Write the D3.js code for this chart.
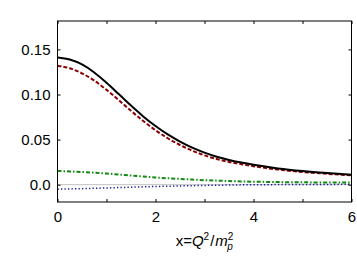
<!DOCTYPE html>
<html>
<head>
<meta charset="utf-8">
<script src="https://cdn.jsdelivr.net/npm/d3@7"></script>
<style>
    body { margin: 0; background: #ffffff; }
    svg { display: block; }
    text { font-family: "Liberation Sans", Arial, sans-serif; fill: #000; }
</style>
</head>
<body>
<div id="chart"></div>
<script>
// Values
const xs = [0, 0.25, 0.5, 0.75, 1, 1.25, 1.5, 1.75, 2, 2.25, 2.5, 2.75, 3, 3.25, 3.5, 3.75, 4, 4.5, 5, 5.5, 6];
const totalSeries = [0.1410, 0.1388, 0.1333, 0.1244, 0.1130, 0.1005, 0.0877, 0.0757, 0.0650, 0.0557, 0.0478, 0.0411, 0.0355, 0.0310, 0.0274, 0.0245, 0.0220, 0.0180, 0.0151, 0.0129, 0.0111];
const redSeries   = [0.1320, 0.1291, 0.1235, 0.1154, 0.1052, 0.0938, 0.0819, 0.0706, 0.0604, 0.0515, 0.0440, 0.0377, 0.0325, 0.0284, 0.0252, 0.0227, 0.0205, 0.0168, 0.0141, 0.0121, 0.0104];
const greenSeries = [0.0153, 0.0147, 0.0141, 0.0133, 0.0124, 0.0113, 0.0102, 0.0091, 0.0080, 0.0071, 0.0064, 0.0057, 0.0050, 0.0045, 0.0040, 0.0036, 0.0033, 0.0029, 0.0026, 0.0025, 0.0024];
const blueSeries  = [-0.0050, -0.0047, -0.0044, -0.0040, -0.0036, -0.0032, -0.0028, -0.0024, -0.0020, -0.0017, -0.0014, -0.0011, -0.0008, -0.0006, -0.0004, -0.0002, -0.0001, 0.0001, 0.0002, 0.0003, 0.0004];

const xTicks = [0, 1, 2, 3, 4, 5, 6];
const xTickLabels = ['0', '', '2', '', '4', '', '6'];
const yTicks = [0, 0.05, 0.10, 0.15];
const yTickLabels = ['0.0', '0.05', '0.10', '0.15'];

const width = 357, height = 256;
const plotLeft = 57.5, plotRight = 351.5, plotTop = 21, plotBottom = 202;

const svg = d3.select('#chart').append('svg')
    .attr('width', width)
    .attr('height', height);

const x = d3.scaleLinear().domain([0, 6]).range([plotLeft, plotRight]);
const y = d3.scaleLinear().domain([-0.0192, 0.1815]).range([plotBottom, plotTop]);

// zero line
svg.append('line')
    .attr('x1', x(0)).attr('x2', x(6))
    .attr('y1', y(0)).attr('y2', y(0))
    .attr('stroke', '#c0c0c0')
    .attr('stroke-width', 1);

const line = d3.line()
    .x((d, i) => x(xs[i]))
    .y(d => y(d))
    .curve(d3.curveMonotoneX);

const series = [
    { values: blueSeries,  color: '#1a1aa0', width: 1.5, dash: '1.3,2.2' },
    { values: greenSeries, color: '#108a10', width: 2,   dash: '4,2,1.5,2' },
    { values: redSeries,   color: '#8b0000', width: 2,   dash: '4,2' },
    { values: totalSeries, color: '#000000', width: 2,   dash: null }
];

series.forEach(s => {
    svg.append('path')
        .attr('d', line(s.values))
        .attr('fill', 'none')
        .attr('stroke', s.color)
        .attr('stroke-width', s.width)
        .attr('stroke-dasharray', s.dash);
});

// Axes with inward ticks
function styleAxis(g) {
    g.select('.domain').remove();
    g.selectAll('.tick line').attr('stroke', '#000').attr('stroke-width', 1);
    g.selectAll('.tick text').style('font-size', '15px').style('font-family', '"Liberation Sans", Arial, sans-serif');
}

svg.append('g')
    .attr('transform', `translate(0,${plotBottom})`)
    .call(d3.axisBottom(x).tickValues(xTicks).tickSize(-3).tickPadding(9)
        .tickFormat((d, i) => xTickLabels[i]))
    .call(styleAxis);

svg.append('g')
    .attr('transform', `translate(0,${plotTop})`)
    .call(d3.axisTop(x).tickValues(xTicks).tickSize(-3).tickFormat(''))
    .call(styleAxis);

svg.append('g')
    .attr('transform', `translate(${plotLeft},0)`)
    .call(d3.axisLeft(y).tickValues(yTicks).tickSize(-3).tickPadding(7)
        .tickFormat((d, i) => yTickLabels[i]))
    .call(styleAxis);

svg.append('g')
    .attr('transform', `translate(${plotRight},0)`)
    .call(d3.axisRight(y).tickValues(yTicks).tickSize(-3).tickFormat(''))
    .call(styleAxis);

// Frame
svg.append('rect')
    .attr('x', plotLeft).attr('y', plotTop)
    .attr('width', plotRight - plotLeft).attr('height', plotBottom - plotTop)
    .attr('fill', 'none')
    .attr('stroke', '#000')
    .attr('stroke-width', 1);

// x axis title: x=Q^2/m_p^2
const title = svg.append('text')
    .attr('x', (plotLeft + plotRight) / 2)
    .attr('y', 246)
    .attr('text-anchor', 'middle')
    .style('font-size', '15px');
title.append('tspan').text('x=');
title.append('tspan').style('font-style', 'italic').text('Q');
title.append('tspan').attr('dy', -6).style('font-size', '10px').text('2');
title.append('tspan').attr('dx', 1).attr('dy', 6).text('/');
title.append('tspan').attr('dx', 1).style('font-style', 'italic').text('m');
title.append('tspan').attr('dy', -6).style('font-size', '10px').text('2');
title.append('tspan').attr('dx', -6).attr('dy', 10).style('font-size', '10px').style('font-style', 'italic').text('p');
</script>
</body>
</html>
